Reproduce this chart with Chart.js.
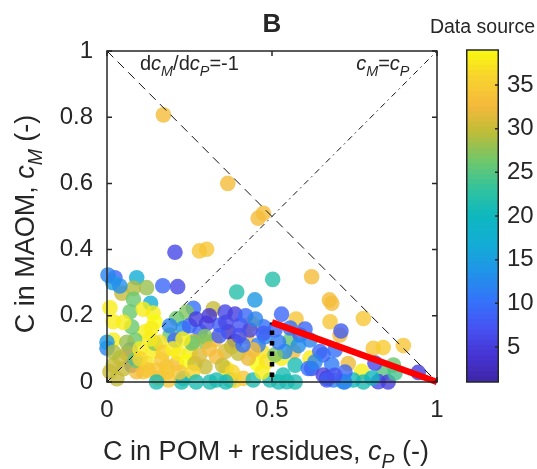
<!DOCTYPE html>
<html>
<head>
<meta charset="utf-8">
<script src="https://cdn.jsdelivr.net/npm/chart.js@4.4.1/dist/chart.umd.min.js"></script>
<style>
  html, body { margin: 0; padding: 0; background: #fff; }
  #wrap { position: relative; width: 537px; height: 469px; }
  #main { position: absolute; left: 0; top: 0; }
  #cbar { position: absolute; left: 466px; top: 0; }
</style>
</head>
<body>
<div id="wrap">
  <canvas id="main" width="537" height="469"></canvas>
  <canvas id="cbar" width="71" height="469"></canvas>
</div>
<script>
// ---- data ----
const cP = [
  0.171, 0.366, 0.458, 0.474, 0.206, 0.280, 0.302, 0.502, 0.620, 0.393,
  0.024, 0.018, 0.090, 0.169, 0.214, 0.120, 0.080, 0.045, 0.132, 0.009,
  0.070, 0.140, 0.262, 0.241, 0.322, 0.448, 0.358, 0.388, 0.529, 0.573,
  0.674, 0.681, 0.676, 0.777, 0.706, 0.709, 0.807, 0.837, 0.898, 0.943,
  0.681, 0.731, 0.772, 0.837, 0.868, 0.777, 0.655, 0.716, 0.822, 0.655,
  0.615, 0.620, 0.565, 0.529, 0.570, 0.534, 0.494, 0.686, 0.746, 0.666,
  0.555, 0.474, 0.479, 0.469, 0.438, 0.368, 0.327, 0.423, 0.388, 0.474,
  0.458, 0.539, 0.645, 0.358, 0.398, 0.332, 0.362, 0.454, 0.484, 0.428,
  0.413, 0.332, 0.373, 0.443, 0.545, 0.509, 0.610, 0.666, 0.019, 0.145,
  0.135, 0.115, 0.211, 0.231, 0.191, 0.282, 0.302, 0.019, 0.000, 0.085,
  0.070, 0.075, 0.019, 0.039, 0.060, 0.009, 0.140, 0.120, 0.110, 0.151,
  0.166, 0.181, 0.211, 0.216, 0.252, 0.242, 0.267, 0.297, 0.297, 0.262,
  0.155, 0.226, 0.312, 0.090, 0.186, 0.075, 0.145, 0.206, 0.257, 0.085,
  0.231, 0.181, 0.125, 0.378, 0.443, 0.297, 0.403, 0.342, 0.509, 0.555,
  0.585, 0.615, 0.433, 0.412, 0.691, 0.721, 0.812, 0.852, 0.803, 0.873,
  0.003, 0.039, 0.000, 0.388, 0.030, 0.050, 0.020, 0.060, 0.100, 0.100,
  0.130, 0.160, 0.170, 0.200, 0.230, 0.220, 0.260, 0.280, 0.310, 0.340,
  0.360, 0.310, 0.420, 0.450, 0.400, 0.350, 0.380, 0.470, 0.520, 0.580,
  0.600, 0.630, 0.080, 0.110, 0.050, 0.190, 0.250, 0.270, 0.150, 0.270,
  0.360, 0.520, 0.570, 0.720, 0.690
];
const cM = [
  0.807, 0.600, 0.495, 0.510, 0.392, 0.396, 0.401, 0.310, 0.318, 0.272,
  0.315, 0.300, 0.315, 0.291, 0.288, 0.285, 0.283, 0.268, 0.238, 0.224,
  0.212, 0.208, 0.223, 0.211, 0.221, 0.248, 0.211, 0.205, 0.205, 0.190,
  0.248, 0.238, 0.182, 0.192, 0.142, 0.154, 0.102, 0.104, 0.110, 0.029,
  0.053, 0.056, 0.032, 0.026, 0.051, 0.000, 0.082, 0.001, 0.001, 0.021,
  0.072, 0.041, 0.092, 0.072, 0.051, 0.021, 0.006, 0.006, 0.006, 0.011,
  0.127, 0.167, 0.137, 0.092, 0.177, 0.152, 0.127, 0.137, 0.122, 0.147,
  0.112, 0.092, 0.092, 0.092, 0.087, 0.076, 0.041, 0.056, 0.061, 0.072,
  0.011, 0.006, 0.006, 0.006, 0.001, 0.082, 0.041, 0.006, 0.182, 0.182,
  0.162, 0.152, 0.192, 0.162, 0.142, 0.152, 0.177, 0.127, 0.102, 0.127,
  0.097, 0.051, 0.051, 0.072, 0.087, 0.031, 0.092, 0.056, 0.031, 0.036,
  0.066, 0.031, 0.056, 0.087, 0.087, 0.061, 0.056, 0.046, 0.122, 0.122,
  0.011, 0.000, 0.000, 0.031, 0.006, 0.167, 0.117, 0.127, 0.117, 0.066,
  0.011, 0.046, 0.036, 0.107, 0.097, 0.137, 0.172, 0.172, 0.157, 0.163,
  0.142, 0.127, 0.157, 0.112, 0.097, 0.030, 0.057, 0.000, 0.012, 0.027,
  0.323, 0.290, 0.120, 0.005, 0.010, 0.040, 0.090, 0.120, 0.100, 0.070,
  0.130, 0.120, 0.090, 0.100, 0.130, 0.030, 0.030, 0.080, 0.100, 0.140,
  0.180, 0.200, 0.200, 0.190, 0.140, 0.050, 0.030, 0.030, 0.120, 0.110,
  0.160, 0.060, 0.250, 0.220, 0.180, 0.170, 0.170, 0.190, 0.000, 0.000,
  0.000, 0.000, 0.000, 0.000, 0.020
];
const dataSource = [
  33, 33, 33, 33, 6, 34, 34, 22, 33, 22,
  9, 15, 17, 9, 6, 28, 29, 30, 17, 38,
  26, 38, 10, 27, 30, 14, 6, 5, 9, 34,
  33, 33, 34, 34, 33, 8, 34, 35, 34, 5,
  11, 32, 38, 25, 26, 21, 9, 13, 6, 5,
  38, 6, 33, 38, 21, 21, 21, 12, 20, 5,
  26, 10, 12, 37, 34, 3, 33, 33, 2, 8,
  11, 13, 9, 31, 30, 33, 38, 39, 37, 32,
  34, 21, 21, 21, 21, 27, 10, 8, 38, 39,
  38, 38, 26, 13, 26, 9, 6, 38, 12, 26,
  10, 6, 30, 30, 30, 30, 38, 37, 34, 34,
  34, 35, 33, 38, 38, 39, 30, 30, 27, 30,
  34, 21, 21, 33, 34, 26, 27, 9, 26, 26,
  21, 34, 34, 30, 33, 27, 7, 8, 9, 10,
  8, 12, 6, 10, 10, 9, 6, 5, 20, 24,
  12, 13, 14, 36, 30, 30, 29, 28, 38, 36,
  38, 37, 35, 38, 38, 34, 36, 31, 33, 8,
  6, 4, 9, 12, 7, 30, 36, 38, 11, 13,
  9, 12, 26, 38, 38, 12, 9, 5, 21, 21,
  21, 21, 21, 12, 7
];

// reference lines
const slopeLineX = [0, 1];
const slopeLineY = [1, 0];
const oneToOneX = [0, 1];
const oneToOneY = [0, 1];
const fitLineX = [0.5, 1];
const fitLineY = [0.18, 0];
const dropLineX = [0.5, 0.5];
const dropLineY = [0.015, 0.18];

// axes
const xTicks = [0, 0.5, 1];
const yTicks = [0, 0.2, 0.4, 0.6, 0.8, 1];
const cbMin = 1;
const cbMax = 39;
const cbTicks = [5, 10, 15, 20, 25, 30, 35];

// ---- styling ----
const FONT = '"Liberation Sans", Arial, sans-serif';
const INK = '#262626';

// parula-like colormap
const cmapStops = [
  [0.00, 62, 38, 168],
  [0.08, 70, 52, 212],
  [0.16, 70, 82, 242],
  [0.24, 52, 114, 250],
  [0.33, 32, 148, 232],
  [0.42, 18, 174, 212],
  [0.50, 14, 184, 190],
  [0.58, 50, 195, 158],
  [0.66, 108, 200, 110],
  [0.75, 190, 188, 55],
  [0.83, 245, 185, 60],
  [0.92, 248, 212, 45],
  [1.00, 249, 251, 14]
];

function cmap(v, alpha) {
  let t = (v - cbMin) / (cbMax - cbMin);
  t = Math.min(1, Math.max(0, t));
  let i = 0;
  while (i < cmapStops.length - 2 && t > cmapStops[i + 1][0]) i++;
  const a = cmapStops[i], b = cmapStops[i + 1];
  const f = (t - a[0]) / (b[0] - a[0]);
  const c = [1, 2, 3].map(k => Math.round(a[k] + (b[k] - a[k]) * f));
  return `rgba(${c[0]},${c[1]},${c[2]},${alpha})`;
}

function pts(xs, ys) {
  return xs.map((x, i) => ({ x, y: ys[i] }));
}

// text with italic / subscript runs
function richWidth(ctx, runs, size) {
  let w = 0;
  runs.forEach(r => {
    const s = r.sub ? size * 0.72 : size;
    ctx.font = `${r.it ? 'italic ' : ''}${s}px ${FONT}`;
    w += ctx.measureText(r.t).width;
  });
  return w;
}

function drawRich(ctx, runs, x, y, size, align) {
  const w = richWidth(ctx, runs, size);
  let cx = align === 'center' ? x - w / 2 : x;
  ctx.textBaseline = 'alphabetic';
  ctx.textAlign = 'left';
  runs.forEach(r => {
    const s = r.sub ? size * 0.72 : size;
    ctx.font = `${r.it ? 'italic ' : ''}${s}px ${FONT}`;
    ctx.fillText(r.t, cx, r.sub ? y + size * 0.3 : y);
    cx += ctx.measureText(r.t).width;
  });
}

const frame = {
  id: 'frame',
  afterDraw(chart) {
    const { ctx, chartArea: a, scales } = chart;
    ctx.save();
    ctx.strokeStyle = INK;
    ctx.lineWidth = 1.5;
    ctx.strokeRect(a.left, a.top, a.right - a.left, a.bottom - a.top);
    ctx.beginPath();
    xTicks.forEach(v => {
      const p = scales.x.getPixelForValue(v);
      ctx.moveTo(p, a.bottom); ctx.lineTo(p, a.bottom - 5);
      ctx.moveTo(p, a.top); ctx.lineTo(p, a.top + 5);
    });
    yTicks.forEach(v => {
      const p = scales.y.getPixelForValue(v);
      ctx.moveTo(a.left, p); ctx.lineTo(a.left + 5, p);
      ctx.moveTo(a.right, p); ctx.lineTo(a.right - 5, p);
    });
    ctx.stroke();

    ctx.fillStyle = INK;
    // annotations inside the axes
    drawRich(ctx, [
      { t: 'd' }, { t: 'c', it: true }, { t: 'M', it: true, sub: true },
      { t: '/d' }, { t: 'c', it: true }, { t: 'P', it: true, sub: true }, { t: '=-1' }
    ], scales.x.getPixelForValue(0.1), a.top + 19, 20, 'left');
    drawRich(ctx, [
      { t: 'c', it: true }, { t: 'M', it: true, sub: true }, { t: '=' },
      { t: 'c', it: true }, { t: 'P', it: true, sub: true }
    ], scales.x.getPixelForValue(0.755), a.top + 19, 20, 'left');

    // title
    ctx.font = `bold 26px ${FONT}`;
    ctx.textAlign = 'center';
    ctx.fillText('B', (a.left + a.right) / 2, 32);

    // colorbar label, centred over the colorbar
    ctx.font = `19.5px ${FONT}`;
    ctx.textAlign = 'center';
    ctx.fillText('Data source', 482.5, 33);

    // x axis title
    drawRich(ctx, [
      { t: 'C in POM + residues, ' }, { t: 'c', it: true },
      { t: 'P', it: true, sub: true }, { t: ' (-)' }
    ], (a.left + a.right) / 2 - 6, 460, 27, 'center');

    // y axis title
    ctx.translate(34, 224);
    ctx.rotate(-Math.PI / 2);
    drawRich(ctx, [
      { t: 'C in MAOM, ' }, { t: 'c', it: true },
      { t: 'M', it: true, sub: true }, { t: ' (-)' }
    ], 0, 0, 27, 'center');
    ctx.restore();
  }
};

new Chart(document.getElementById('main'), {
  type: 'scatter',
  data: {
    datasets: [
      {
        type: 'line', data: pts(slopeLineX, slopeLineY),
        borderColor: '#111', borderWidth: 1, borderDash: [9, 6],
        pointRadius: 0, fill: false, order: 0
      },
      {
        type: 'line', data: pts(oneToOneX, oneToOneY),
        borderColor: '#111', borderWidth: 1, borderDash: [6, 4, 1.5, 4],
        pointRadius: 0, fill: false, order: 0
      },
      {
        type: 'line', data: pts(fitLineX, fitLineY),
        borderColor: '#ff0000', borderWidth: 6.5,
        pointRadius: 0, fill: false, clip: false, order: 0
      },
      {
        type: 'line', data: pts(dropLineX, dropLineY),
        borderColor: '#000', borderWidth: 4.5, borderDash: [4.5, 6],
        pointRadius: 0, fill: false, order: 0
      },
      {
        data: pts(cP, cM),
        backgroundColor: dataSource.map(v => cmap(v, 0.8)),
        pointRadius: 7.8, pointBorderWidth: 0, borderWidth: 0,
        clip: false, order: 1
      }
    ]
  },
  options: {
    responsive: false,
    animation: false,
    events: [],
    layout: { padding: { top: 51, right: 100, left: 0, bottom: 0 } },
    plugins: { legend: { display: false }, tooltip: { enabled: false } },
    scales: {
      x: {
        type: 'linear', min: 0, max: 1,
        afterBuildTicks: s => { s.ticks = xTicks.map(v => ({ value: v })); },
        afterFit: s => { s.height = 87; },
        grid: { display: false, drawTicks: false },
        border: { display: false },
        ticks: { color: INK, font: { family: FONT, size: 24 }, padding: 14, maxRotation: 0,
          callback: v => String(v) }
      },
      y: {
        type: 'linear', min: 0, max: 1,
        afterBuildTicks: s => { s.ticks = yTicks.map(v => ({ value: v })); },
        afterFit: s => { s.width = 107; },
        grid: { display: false, drawTicks: false },
        border: { display: false },
        ticks: { color: INK, font: { family: FONT, size: 24 }, padding: 14,
          callback: v => String(v) }
      }
    }
  },
  plugins: [frame]
});

// ---- colorbar ----
const cbSteps = 64;
const cbStep = (cbMax - cbMin) / cbSteps;
const cbDatasets = [];
for (let i = 0; i < cbSteps; i++) {
  const lo = cbMin + i * cbStep;
  cbDatasets.push({
    data: [[lo, Math.min(cbMax, lo + cbStep * 1.05)]],
    backgroundColor: cmap(lo + cbStep / 2, 1),
    borderWidth: 0, grouped: false,
    barPercentage: 1, categoryPercentage: 1
  });
}

const cbFrame = {
  id: 'cbFrame',
  afterDraw(chart) {
    const { ctx, chartArea: a, scales } = chart;
    ctx.save();
    ctx.strokeStyle = INK;
    ctx.lineWidth = 1.5;
    ctx.strokeRect(a.left + 0.75, a.top, a.right - a.left - 1.5, a.bottom - a.top);
    ctx.beginPath();
    cbTicks.forEach(v => {
      const p = scales.y.getPixelForValue(v);
      ctx.moveTo(a.right, p); ctx.lineTo(a.right - 4, p);
    });
    ctx.stroke();
    ctx.restore();
  }
};

new Chart(document.getElementById('cbar'), {
  type: 'bar',
  data: { labels: ['source'], datasets: cbDatasets },
  options: {
    responsive: false,
    animation: false,
    events: [],
    layout: { padding: { top: 50, bottom: 87, left: 0, right: 0 } },
    plugins: { legend: { display: false }, tooltip: { enabled: false } },
    scales: {
      x: { display: false },
      y: {
        position: 'right', min: cbMin, max: cbMax,
        afterBuildTicks: s => { s.ticks = cbTicks.map(v => ({ value: v })); },
        afterFit: s => { s.width = 38; },
        grid: { display: false, drawTicks: false },
        border: { display: false },
        ticks: { color: INK, font: { family: FONT, size: 24 }, padding: 8 }
      }
    }
  },
  plugins: [cbFrame]
});
</script>
</body>
</html>
